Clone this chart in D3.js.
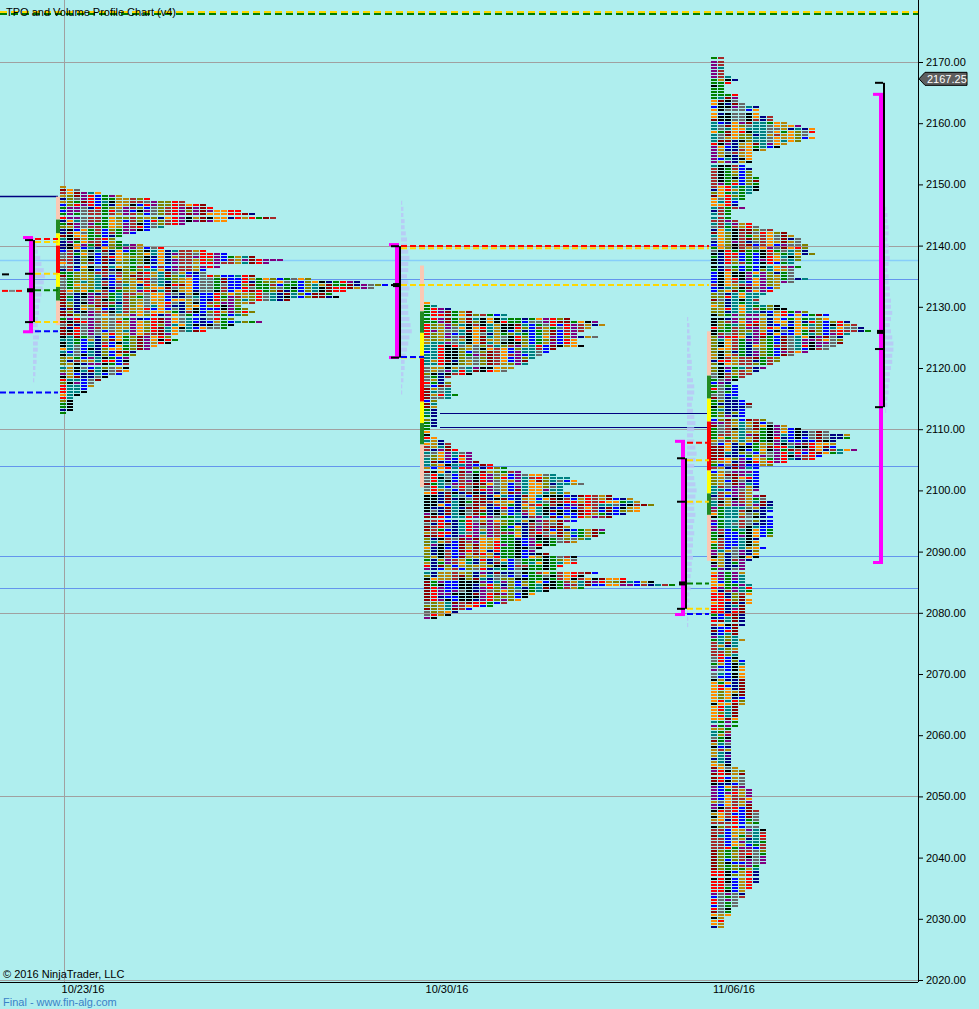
<!DOCTYPE html>
<html><head><meta charset="utf-8">
<script src="https://cdn.jsdelivr.net/npm/d3@7"></script>
<style>
html,body{margin:0;padding:0;background:#afeeee;}
svg{display:block;font-family:"Liberation Sans",Arial,sans-serif;}
</style></head><body>
<svg id="chart" width="979" height="1009"></svg>
<script>
// ---------------- DATA ----------------
const dates = ["10/23/16", "10/30/16", "11/06/16"];
const sessionBar = [0, 52, 93];            // bar index of each profile's first TPO column
const tpoTop = [2149.5, 2130.5, 2170.5];   // price of first (top) TPO row, rows step 0.5
const tpo1 = [1,3,6,9,13,18,21,22,26,28,31,24,18,15,13,11,9,8,9,12,15,21,24,28,32,30,23,21,21,28,
  36,43,47,45,41,39,40,33,28,26,27,28,27,25,29,25,24,21,17,16,17,16,14,13,11,11,10,10,10,10,
  10,9,7,6,5,5,4,4,3,2,2,2,2,2,1];
const tpo2 = [1,2,4,7,12,21,25,26,24,23,22,25,22,22,23,19,18,17,16,15,15,13,12,7,4,3,4,4,4,4,
  5,4,2,2,2,2,2,2,2,2,2,1,1,1,
  2,3,4,4,5,7,7,7,8,10,12,14,19,21,22,23,20,20,21,27,30,31,33,31,31,29,27,22,20,21,
  26,26,25,24,22,19,17,16,18,22,22,22,20,19,25,23,29,33,36,23,18,16,15,14,12,10,7,5,4,2];
const tpo3 = [2,2,2,2,2,2,3,4,3,2,2,2,4,4,4,5,7,7,7,9,9,11,13,15,15,14,15,13,11,10,
  8,6,6,6,6,5,6,6,6,7,7,7,7,7,6,5,5,4,4,5,3,3,3,4,6,7,9,11,12,13,13,14,
  14,14,15,13,13,12,13,12,12,12,14,12,10,10,9,8,7,7,7,10,11,14,17,17,20,21,22,23,20,19,
  19,19,18,17,14,12,10,10,9,8,7,6,5,4,3,4,4,4,4,4,5,6,6,5,5,5,8,9,11,13,
  17,20,20,18,18,18,21,19,16,15,11,9,7,7,7,7,7,7,7,7,6,8,8,9,9,9,9,8,9,9,
  9,9,9,9,9,7,7,7,8,7,7,7,6,5,5,5,5,5,5,5,6,6,6,6,5,6,6,5,5,5,5,5,5,5,
  4,4,4,4,5,4,4,4,4,4,4,5,5,5,5,5,5,5,5,5,5,5,5,5,5,5,4,4,4,4,4,4,4,
  3,3,3,3,3,3,3,3,3,3,3,3,3,4,5,5,5,5,5,5,6,6,6,6,6,6,6,7,7,7,7,7,7,
  8,8,8,8,8,8,8,8,8,8,8,8,7,7,7,7,7,7,6,6,5,5,5,4,4,4,3,3,3,2,2,2,2];
const tpoRows = [tpo1, tpo2, tpo3];

// initial-balance / range colour bar boundaries (price, top->bottom)
const ibBar1 = [2148, 2144.25, 2142, 2140, 2135.5, 2133.25, 2131, 2127];
const ibBar2 = [2136.75, 2129.25, 2125.75, 2122, 2114.5, 2111, 2107.5, 2100.5];
const ibBar3 = [2126, 2118.75, 2115, 2111.25, 2103.25, 2099.5, 2096, 2088.5];

// value-area brackets: [vaHigh, vaLow, ibHigh, ibLow, mid, poc]
const bracket1 = [2141.4, 2126.0, 2140.9, 2127.5, 2135.4, 2132.7];
const bracket2 = [2140.25, 2121.8, 2139.9, 2121.7, 2133.55, 2133.55];
const bracket3 = [2108.1, 2079.8, 2105.25, 2080.65, 2098.15, 2084.8];
const bracket4 = [2164.8, 2088.3, 2166.6, 2113.6, 2123.1, 2125.9];

// horizontal levels
const gridPrices = [2020, 2050, 2080, 2110, 2140, 2170];
const yTicks = [2020,2030,2040,2050,2060,2070,2080,2090,2100,2110,2120,2130,2140,2150,2160,2170];
const skyLevels = [2137.65];
const blueLevels = [2134.55, 2104.0, 2089.3, 2084.05];
const navyLevels = [2112.65, 2110.35];
const topLevel = 2178;
const lastPrice = 2167.25;

// volume profiles (relative volume per 1.0 point, top->bottom)
const volTop = [2141, 2147, 2128, 2146];
const vol1 = [2,3,4,6,7,9,10,9,8,7,6,5,5,4,4,5,5,4,4,3,3,2,2,1];
const vol2 = [1,2,2,3,3,4,5,5,6,7,6,6,5,6,7,6,5,6,6,7,8,9,7,6,5,4,3,3,2,2,1,1];
const vol3 = [1,2,2,3,3,2,3,4,4,3,5,6,6,5,4,5,6,7,6,5,6,7,8,7,6,5,6,7,8,7,6,6,7,6,5,6,5,5,4,5,4,4,3,3,3,2,2,2,1,1,1];
const vol4 = [1,2,2,3,3,2,3,3,4,3,2,3,3,4,4,5,5,6,5,4,5,6,7,7,6,6,5,4,4,3,3,2,2,1];

// ---------------- CHART ----------------
const W = 979, H = 1009, plotR = 918, plotB = 982;
const svg = d3.select("#chart");
const y = d3.scaleLinear().domain([2020, 2170]).range([980, 62]);
const xBar = d3.scaleLinear().domain([0, 1]).range([60, 67]);

svg.append("rect").attr("width", W).attr("height", H).attr("fill", "#afeeee");
svg.append("clipPath").attr("id", "clip").append("rect").attr("width", plotR).attr("height", plotB);
const g = svg.append("g").attr("clip-path", "url(#clip)");

// grid
g.selectAll(".grid").data(gridPrices).join("line")
  .attr("x1", 0).attr("x2", plotR).attr("y1", d => Math.round(y(d)) + 0.5).attr("y2", d => Math.round(y(d)) + 0.5)
  .attr("stroke", "#a0a0a0").attr("stroke-width", 1);
g.append("line").attr("x1", xBar(sessionBar[0]) + 4.5).attr("x2", xBar(sessionBar[0]) + 4.5)
  .attr("y1", 0).attr("y2", plotB).attr("stroke", "#a0a0a0");

// levels
function hline(price, x1, x2, color, w, dash) {
  const l = g.append("line").attr("x1", x1).attr("x2", x2)
    .attr("y1", Math.round(y(price)) + 0.5).attr("y2", Math.round(y(price)) + 0.5)
    .attr("stroke", color).attr("stroke-width", w);
  if (dash) l.attr("stroke-dasharray", dash);
  return l;
}
skyLevels.forEach(p => hline(p, 0, plotR, "#87cefa", 1.5));
blueLevels.forEach(p => hline(p, 0, plotR, "#6495ed", 1));
navyLevels.forEach(p => hline(p, xBar(sessionBar[1]) + 16, xBar(sessionBar[2]) - 2, "#000080", 1));
hline(2148.1, 0, xBar(0) - 2, "#000080", 1.5);
hline(2116.1, 0, xBar(0) - 2, "#0000ff", 2, "6,3");
// top dashed level
g.append("line").attr("x1", 0).attr("x2", plotR).attr("y1", y(topLevel) - 1).attr("y2", y(topLevel) - 1)
  .attr("stroke", "#ffd700").attr("stroke-width", 2).attr("stroke-dasharray", "7,4");
g.append("line").attr("x1", 0).attr("x2", plotR).attr("y1", y(topLevel) + 1).attr("y2", y(topLevel) + 1)
  .attr("stroke", "#008000").attr("stroke-width", 2).attr("stroke-dasharray", "7,4");
// remnants at left edge from previous profile
g.append("rect").attr("x", 2).attr("y", y(2135.3) - 1).attr("width", 7).attr("height", 2).attr("fill", "#000");
[["#ff0000", 2], ["#808080", 9], ["#ff0000", 16]].forEach(([c, x]) =>
  g.append("rect").attr("x", x).attr("y", y(2132.6) - 1).attr("width", 6).attr("height", 2).attr("fill", c));

// volume profiles
const volX = [xBar(0) - 27, xBar(sessionBar[1]) - 23, xBar(sessionBar[2]) - 24, xBar(117) + 6];
const vw = d3.scaleLinear().domain([0, 10]).range([0, 12]);
[vol1, vol2, vol3, vol4].forEach((arr, p) => {
  g.selectAll(null).data(arr).join("rect")
    .attr("x", volX[p]).attr("y", (d, i) => y(volTop[p] - i) - 2)
    .attr("width", d => vw(d)).attr("height", 4)
    .attr("fill", "#b8c6f6").attr("opacity", 0.85);
});

// TPO blocks
const palette = ["#8b0000", "#a52a2a", "#0000ff", "#000080", "#008080", "#ff8c00", "#b8860b",
  "#808000", "#696969", "#008000", "#ff0000", "#800080", "#000000"];
function hsh(a, b, c) {
  let h = Math.imul(a + 17, 73856093) ^ Math.imul(b + 31, 19349663) ^ Math.imul(c + 7, 83492791);
  h = Math.imul(h ^ (h >>> 13), 1274126177);
  h ^= h >>> 16;
  return h >>> 0;
}
function blockColor(p, r, c) {
  const base = hsh(p, c, Math.floor(r / 7));
  const noise = hsh(p, r, c);
  return palette[(base + (noise % 3 === 0 ? noise : 0)) % palette.length];
}
tpoRows.forEach((rows, p) => {
  const blocks = [];
  rows.forEach((n, r) => { for (let c = 0; c < n; c++) blocks.push({ r, c, price: tpoTop[p] - 0.5 * r }); });
  g.append("g").selectAll("rect").data(blocks).join("rect")
    .attr("x", d => xBar(sessionBar[p] + d.c))
    .attr("y", d => Math.round(y(d.price) - 1.5))
    .attr("width", 6).attr("height", 2)
    .attr("fill", d => blockColor(p, d.r, d.c));
});

// IB colour bars
const segColors = ["#fac8b4", "#228b22", "#ffff00", "#ff0000", "#ffff00", "#228b22", "#fac8b4"];
[ibBar1, ibBar2, ibBar3].forEach((b, p) => {
  const x0 = xBar(sessionBar[p]) - 4;
  for (let i = 0; i < b.length - 1; i++) {
    g.append("rect").attr("x", x0).attr("width", 4)
      .attr("y", y(b[i])).attr("height", y(b[i + 1]) - y(b[i])).attr("fill", segColors[i]);
  }
});

// brackets
function bracket(b, xm, dashEnd, longDash) {
  const [vaH, vaL, ibH, ibL, mid, poc] = b;
  g.append("rect").attr("x", xm).attr("y", y(vaH)).attr("width", 4).attr("height", y(vaL) - y(vaH)).attr("fill", "#ff00ff");
  g.append("rect").attr("x", xm - 6).attr("y", y(vaH) - 1).attr("width", 10).attr("height", 3).attr("fill", "#ff00ff");
  g.append("rect").attr("x", xm - 6).attr("y", y(vaL) - 1).attr("width", 10).attr("height", 3).attr("fill", "#ff00ff");
  g.append("rect").attr("x", xm + 4).attr("y", y(ibH)).attr("width", 2).attr("height", y(ibL) - y(ibH)).attr("fill", "#000");
  [ibH, mid, ibL].forEach(v => g.append("rect").attr("x", xm - 4).attr("y", y(v) - 1).attr("width", 8).attr("height", 2).attr("fill", "#000"));
  g.append("rect").attr("x", xm - 2).attr("y", y(poc) - 2).attr("width", 8).attr("height", 4).attr("fill", "#000");
  if (dashEnd) {
    const x1 = xm + 6;
    const lines = [[vaH - 0.33, "#ff0000", longDash], [ibH - 0.33, "#ffd700", longDash], [mid, "#ffd700", false],
      [poc, "#008000", false], [ibL, "#ffd700", false], [vaL, "#0000ff", false]];
    lines.forEach(([pr, col, lng]) => {
      g.append("line").attr("x1", x1).attr("x2", lng ? longDash : dashEnd)
        .attr("y1", y(pr)).attr("y2", y(pr)).attr("stroke", col).attr("stroke-width", 2).attr("stroke-dasharray", "6,3");
    });
  }
}
bracket(bracket1, xBar(0) - 31, xBar(0) - 2, false);
bracket(bracket2, xBar(sessionBar[1]) - 29, xBar(sessionBar[1]), xBar(sessionBar[2]) - 2);
g.append("line").attr("x1", xBar(sessionBar[1]) - 23).attr("x2", xBar(sessionBar[2]) - 2)
  .attr("y1", y(bracket2[5])).attr("y2", y(bracket2[5])).attr("stroke", "#ffd700").attr("stroke-width", 2).attr("stroke-dasharray", "6,3");
bracket(bracket3, xBar(sessionBar[2]) - 30, xBar(sessionBar[2]) - 2, false);
bracket(bracket4, xBar(117), null, false);

// axes
svg.append("line").attr("x1", plotR + 0.5).attr("x2", plotR + 0.5).attr("y1", 0).attr("y2", plotB).attr("stroke", "#000");
svg.append("line").attr("x1", 0).attr("x2", plotR).attr("y1", plotB + 0.5).attr("y2", plotB + 0.5).attr("stroke", "#000");
const ax = svg.append("g").attr("transform", `translate(${plotR},0)`)
  .call(d3.axisRight(y).tickValues(yTicks).tickFormat(d3.format(".2f")).tickSize(5).tickPadding(3));
ax.select(".domain").remove();
ax.selectAll("text").attr("font-size", 11).attr("font-family", "Liberation Sans, Arial, sans-serif").attr("fill", "#000");
ax.selectAll("line").attr("stroke", "#000");

// last price marker
const ly = y(lastPrice);
svg.append("path")
  .attr("d", `M${plotR + 1},${ly} L${plotR + 7},${ly - 6.5} L${plotR + 49},${ly - 6.5} L${plotR + 49},${ly + 6.5} L${plotR + 7},${ly + 6.5} Z`)
  .attr("fill", "#5e5e5e").attr("stroke", "#000").attr("stroke-width", 1);
svg.append("text").attr("x", plotR + 9).attr("y", ly + 4).attr("font-size", 11).attr("fill", "#fff").text(d3.format(".2f")(lastPrice));

// date labels
svg.selectAll(".dl").data(dates).join("text")
  .attr("x", (d, i) => xBar(sessionBar[i]) + 23).attr("y", 993)
  .attr("text-anchor", "middle").attr("font-size", 11).attr("fill", "#000").text(d => d);

// texts
svg.append("text").attr("x", 6).attr("y", 16).attr("font-size", 11).attr("fill", "#000").text("TPO and Volume Profile Chart (v4)");
svg.append("text").attr("x", 3).attr("y", 978).attr("font-size", 11).attr("fill", "#000").text("© 2016 NinjaTrader, LLC");
svg.append("text").attr("x", 3).attr("y", 1006).attr("font-size", 11).attr("fill", "#3a82c8").text("Final - www.fin-alg.com");
</script>
</body></html>
